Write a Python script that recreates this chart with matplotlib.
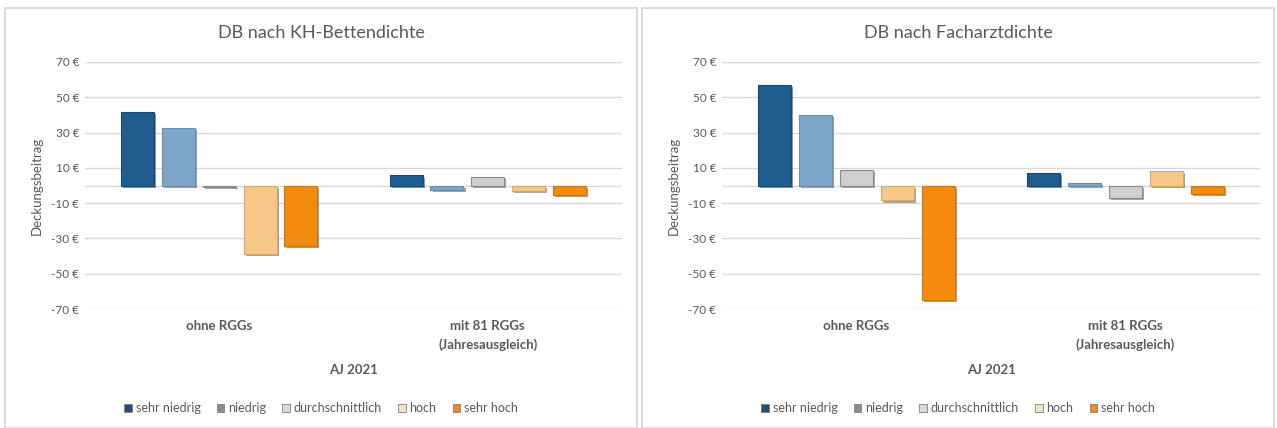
import numpy as np
import matplotlib
matplotlib.use("Agg")
import matplotlib.pyplot as plt
from matplotlib.patches import Rectangle, Patch
import matplotlib.patheffects as pe

plt.rcParams['font.family'] = ['Lato', 'DejaVu Sans']

# data
groups = ["ohne RGGs", "mit 81 RGGs\n(Jahresausgleich)"]
series = ["sehr niedrig", "niedrig", "durchschnittlich", "hoch", "sehr hoch"]
bett_values = [
    [41.5, 5.7],    # sehr niedrig
    [32.5, -2.5],   # niedrig
    [-1.0, 5.0],    # durchschnittlich
    [-39.0, -3.0],  # hoch
    [-34.5, -5.5],  # sehr hoch
]
fach_values = [
    [57.0, 7.0],
    [40.0, 1.5],
    [9.0, -7.0],
    [-8.5, 8.5],
    [-65.0, -5.0],
]
titles = ["DB nach KH-Bettendichte", "DB nach Facharztdichte"]
yticks = [70, 50, 30, 10, -10, -30, -50, -70]

bar_colors = ["#1f5d8e", "#7ea6c8", "#d0d0d0", "#f9c68a", "#f28b0e"]
edge_colors = ["#174a72", "#6a8fae", "#8a8a8a", "#d9a76a", "#d0760a"]
legend_colors = ["#1f4e79", "#8c8c8c", "#d9d9d9", "#efe3c0", "#ee8a1a"]
text_col = "#595959"

W, H = 1277, 428
fig = plt.figure(figsize=(W / 100, H / 100), dpi=100)

def px(x0, y0, x1, y1):
    # pixel box -> figure fraction [left, bottom, width, height]
    return [x0 / W, 1 - y1 / H, (x1 - x0) / W, (y1 - y0) / H]

# panel frames
for x0, x1 in [(5, 637), (642, 1274)]:
    fig.patches.append(Rectangle((x0 / W, 0), (x1 - x0) / W, 1 - 8 / H,
                                 transform=fig.transFigure, fill=False,
                                 edgecolor="#d4d4d4", lw=1.2))

def draw_panel(ax_box, values, title, panel_x0, panel_x1):
    ax = fig.add_axes(ax_box)
    x = np.arange(len(groups))
    pitch = 0.152
    width = 0.123
    for i, s in enumerate(series):
        ax.bar(x + (i - 2) * pitch, values[i], width, color=bar_colors[i],
               edgecolor=edge_colors[i], lw=0.8, zorder=3,
               path_effects=[pe.SimplePatchShadow(offset=(1.5, -1.5), alpha=0.45),
                             pe.Normal()])
    ax.set_xlim(-0.5, 1.5)
    ax.set_ylim(-70, 70)
    ax.set_yticks(yticks)
    ax.set_yticklabels([f"{v} €" for v in yticks], fontsize=8.5, color=text_col)
    ax.grid(axis="y", color="#d9d9d9", lw=1, zorder=0)
    ax.axhline(0, color="#d9d9d9", lw=1, zorder=1)
    ax.set_xticks(x)
    ax.set_xticklabels(groups, fontsize=9.5, fontweight="bold", color=text_col,
                       va="top", linespacing=1.6)
    ax.tick_params(length=0, pad=8)
    ax.tick_params(axis="y", pad=4)
    for sp in ax.spines.values():
        sp.set_visible(False)
    ax.set_ylabel("Deckungsbeitrag", fontsize=9.5, color=text_col, labelpad=6)
    ax.text(0.5, -0.245, "AJ 2021", transform=ax.transAxes, ha="center",
            va="center", fontsize=9.5, fontweight="bold", color=text_col)
    cx = (panel_x0 + panel_x1) / 2 / W
    fig.text(cx, 1 - 33 / H, title, ha="center", va="center", fontsize=13,
             color=text_col)
    handles = [Patch(facecolor=legend_colors[i], edgecolor="#7f7f7f", lw=0.6,
                     label=s) for i, s in enumerate(series)]
    fig.legend(handles=handles, loc="center", bbox_to_anchor=(cx, 1 - 408 / H),
               ncol=5, frameon=False, fontsize=9, handlelength=0.6,
               handleheight=0.6, handletextpad=0.3, columnspacing=1.3,
               labelcolor=text_col)
    return ax

draw_panel(px(85, 62, 622, 309), bett_values, titles[0], 5, 637)
draw_panel(px(722, 62, 1260, 309), fach_values, titles[1], 642, 1274)

fig.savefig("out.png", dpi=100, facecolor="white")
